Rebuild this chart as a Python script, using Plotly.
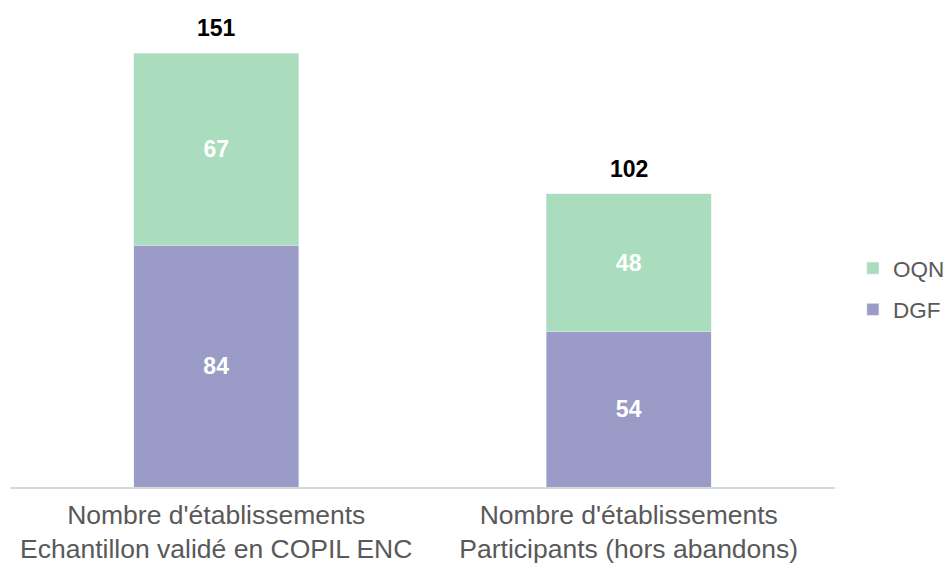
import plotly.graph_objects as go

categories = ["Nombre d'établissements<br>Echantillon validé en COPIL ENC",
              "Nombre d'établissements<br>Participants (hors abandons)"]
dgf = [84, 54]
oqn = [67, 48]
totals = [a + b for a, b in zip(dgf, oqn)]

green = "#AADCBE"
purple = "#9B9BC8"
font = "Liberation Sans, Arial, sans-serif"

fig = go.Figure()
fig.add_bar(x=categories, y=dgf, name="DGF", marker_color=purple, legendgroup="g1",
            legendrank=2,
            text=dgf, texttemplate="<b>%{text}</b>", textposition="inside",
            insidetextanchor="middle", textfont=dict(color="white", size=23, family=font),
            constraintext="none", hoverinfo="skip")
fig.add_bar(x=categories, y=oqn, name="OQN", marker_color=green, legendgroup="g2",
            legendrank=1,
            text=oqn, texttemplate="<b>%{text}</b>", textposition="inside",
            insidetextanchor="middle", textfont=dict(color="white", size=23, family=font),
            constraintext="none", hoverinfo="skip")

for c, t in zip(categories, totals):
    fig.add_annotation(x=c, y=t, text=f"<b>{t}</b>", showarrow=False, yanchor="bottom",
                       yshift=10, font=dict(size=23, color="black", family=font))

fig.update_layout(
    width=944, height=555,
    barmode="stack", bargap=0.6,
    plot_bgcolor="white", paper_bgcolor="white",
    margin=dict(l=2, r=114, t=12, b=76),
    font=dict(family=font, color="#595959"),
    uniformtext=dict(mode=False),
    legend=dict(x=1.0217, xanchor="left", y=0.424, yanchor="middle",
                traceorder="grouped", tracegroupgap=9,
                font=dict(size=22.5, color="#595959", family=font),
                bgcolor="rgba(0,0,0,0)"),
    xaxis=dict(showline=True, linecolor="#D9D9D9", linewidth=2, ticks="",
               ticklabelstandoff=3,
               tickfont=dict(size=26.5, color="#595959", family=font), automargin=False),
    yaxis=dict(range=[0, 162.5], visible=False, showgrid=False, zeroline=False),
)

fig.write_html("out.html")
